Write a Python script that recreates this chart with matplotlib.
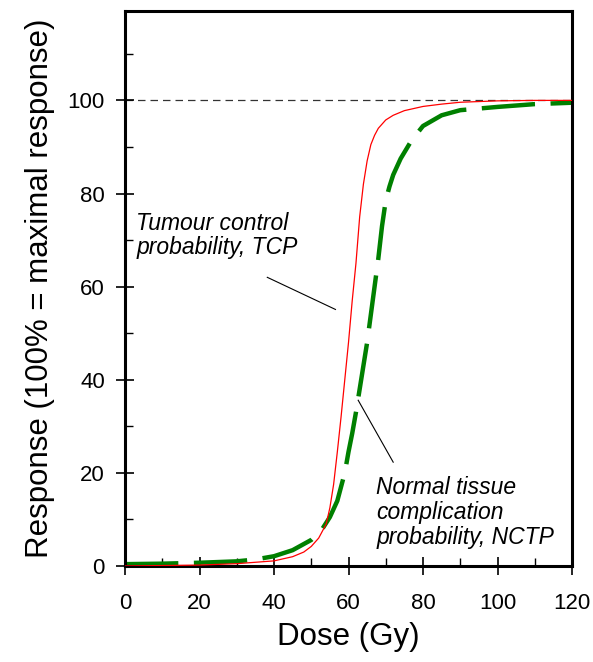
import matplotlib
matplotlib.use('Agg')
import matplotlib.pyplot as plt
from matplotlib.ticker import MultipleLocator

plt.rcParams['font.family'] = ['Liberation Sans', 'DejaVu Sans']

# Tumour control probability (TCP)
tcp_dose = [0, 10, 20, 30, 35, 40, 45, 48, 50, 52, 54, 55, 56, 57, 58, 59, 60, 61, 62, 63,
            64, 65, 66, 67, 68, 70, 72, 75, 80, 85, 90, 100, 110, 120]
tcp_resp = [0, 0.1, 0.2, 0.5, 0.8, 1.1, 2.0, 3.0, 4.2, 6.0, 9.0, 12.5, 17.5, 24.5, 32, 40, 48, 57, 65, 75,
            82, 87, 90.5, 92.5, 94, 95.8, 96.8, 97.8, 98.7, 99.2, 99.6, 99.9, 100, 100]

# Normal tissue complication probability (NTCP)
ntcp_dose = [0, 10, 20, 30, 35, 40, 45, 50, 53, 55, 57, 59, 60, 61, 62, 63, 64, 65, 66, 67,
             68, 69, 70, 71, 72, 74, 77, 80, 85, 90, 100, 110, 120]
ntcp_resp = [0.4, 0.5, 0.7, 1.0, 1.4, 2.1, 3.4, 5.6, 8.0, 10.5, 14, 20, 24.5, 28.5, 33, 38, 43, 48, 54, 60,
             66, 73, 78.5, 81.5, 84, 87.5, 91.5, 94.5, 96.8, 97.9, 98.6, 99.2, 99.5]

fig = plt.figure(figsize=(5.93, 6.62), dpi=100)
ax = fig.add_axes([125 / 593, 1 - 566 / 662, 447 / 593, 555 / 662])

# reference line at 100 %
ax.axhline(100, color='#333333', lw=0.9, dashes=(6, 4), zorder=1)

ax.plot(tcp_dose, tcp_resp, color='red', lw=0.9, zorder=3)
ax.plot(ntcp_dose, ntcp_resp, color='green', lw=3.2, dashes=(12, 3.5),
        solid_capstyle='butt', dash_capstyle='butt', zorder=2)

ax.set_xlim(0, 120)
ax.set_ylim(0, 119.2)
ax.xaxis.set_major_locator(MultipleLocator(20))
ax.xaxis.set_minor_locator(MultipleLocator(10))
ax.yaxis.set_major_locator(MultipleLocator(20))
ax.yaxis.set_minor_locator(MultipleLocator(10))

ax.tick_params(which='major', direction='inout', length=13, width=1.2, labelsize=16)
ax.tick_params(axis='x', which='major', pad=13)
ax.tick_params(axis='y', which='major', pad=8)
ax.tick_params(which='minor', direction='in', length=6, width=1.0)
for s in ax.spines.values():
    s.set_linewidth(2.2)

ax.set_xlabel('Dose (Gy)', fontsize=22.5)
ax.set_ylabel('Response (100% = maximal response)', fontsize=22.5)
ax.xaxis.label.set_va('center')
ax.yaxis.label.set_va('center')
ax.xaxis.set_label_coords(0.5, -0.128)
ax.yaxis.set_label_coords(-0.19, 0.5)

# annotations with leader lines
ax.text(3.0, 71, 'Tumour control\nprobability, TCP', fontsize=16.5, style='italic',
        va='center', ha='left', linespacing=1.1)
ax.plot([38.2, 56.5], [62.0, 55.1], color='black', lw=0.8)

ax.text(67.5, 11.5, 'Normal tissue\ncomplication\nprobability, NCTP', fontsize=16.5, style='italic',
        va='center', ha='left', linespacing=1.1)
ax.plot([62.6, 72.0], [35.6, 22.3], color='black', lw=0.8)

fig.savefig('out.png', dpi=100)
